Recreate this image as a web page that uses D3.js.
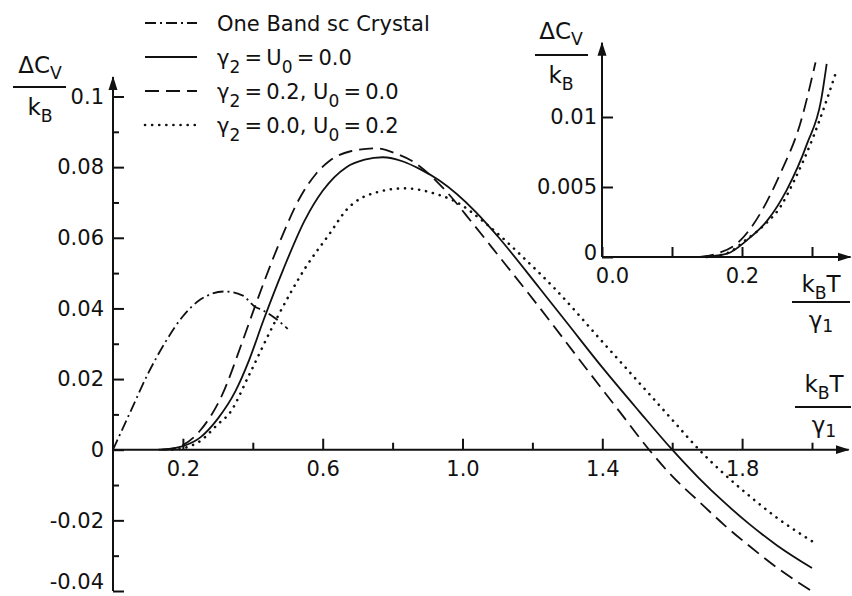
<!DOCTYPE html>
<html>
<head>
<meta charset="utf-8">
<script src="https://cdn.jsdelivr.net/npm/d3@7"></script>
<style>
  body { margin: 0; background: #fff; }
  svg text { font-family: "DejaVu Sans", sans-serif; fill: #111; }
</style>
</head>
<body>
<div id="chart"></div>
<script>
// values: x = kB T / gamma1, y = delta Cv / kB

// one band sc crystal (dash-dot)
const oneBandT  = [0, 0.05, 0.1, 0.15, 0.2, 0.25, 0.32, 0.37, 0.406, 0.43, 0.463, 0.5];
const oneBandCv = [0, 0.0108, 0.0215, 0.0305, 0.0378, 0.0425, 0.0448, 0.0437, 0.0405, 0.0394, 0.0373, 0.0342];

// gamma2 = U0 = 0.0 (solid)
const solidT  = [0.13, 0.16, 0.2, 0.25, 0.3, 0.35, 0.39, 0.43, 0.487, 0.549, 0.6, 0.668, 0.72, 0.772, 0.83, 0.877, 0.934, 1.039, 1.1, 1.22, 1.3, 1.4, 1.506, 1.6, 1.677, 1.75, 1.82, 1.9, 2.0];
const solidCv = [0, 0.0002, 0.001, 0.0035, 0.0088, 0.0165, 0.0255, 0.0365, 0.051, 0.065, 0.0733, 0.08, 0.0821, 0.0828, 0.0816, 0.0795, 0.0762, 0.0672, 0.0605, 0.0458, 0.0358, 0.0233, 0.0108, 0, -0.0081, -0.015, -0.021, -0.0271, -0.0335];

// gamma2 = 0.2, U0 = 0.0 (dashed)
const dashedT  = [0.14, 0.17, 0.2, 0.25, 0.31, 0.372, 0.406, 0.434, 0.477, 0.534, 0.58, 0.62, 0.68, 0.753, 0.81, 0.858, 0.95, 1.029, 1.1, 1.22, 1.35, 1.45, 1.534, 1.6, 1.677, 1.75, 1.82, 1.9, 2.0];
const dashedCv = [0, 0.0003, 0.0013, 0.0055, 0.015, 0.0311, 0.0405, 0.048, 0.0588, 0.0712, 0.078, 0.0818, 0.0845, 0.0853, 0.0838, 0.0816, 0.0735, 0.0641, 0.0553, 0.0403, 0.0235, 0.0107, 0, -0.0075, -0.0147, -0.0214, -0.0272, -0.0334, -0.0401];

// gamma2 = 0.0, U0 = 0.2 (dotted)
const dottedT  = [0.17, 0.2, 0.25, 0.3, 0.334, 0.391, 0.465, 0.553, 0.62, 0.668, 0.763, 0.834, 0.934, 0.971, 1.077, 1.17, 1.267, 1.4, 1.506, 1.6, 1.677, 1.75, 1.82, 1.9, 2.0];
const dottedCv = [0, 0.0004, 0.0025, 0.0072, 0.0104, 0.0215, 0.0365, 0.0519, 0.0612, 0.0679, 0.0731, 0.074, 0.0721, 0.0707, 0.0632, 0.0548, 0.0453, 0.0306, 0.0189, 0.0085, 0, -0.007, -0.013, -0.0193, -0.0259];

// inset (low temperature part)
const insetSolidT   = [0.145, 0.179, 0.207, 0.236, 0.264, 0.293, 0.313, 0.321];
const insetSolidCv  = [0, 0.00024, 0.0012, 0.0026, 0.0048, 0.0081, 0.0112, 0.0138];
const insetDashedT  = [0.14, 0.164, 0.198, 0.226, 0.255, 0.283, 0.305];
const insetDashedCv = [0, 0.00024, 0.0012, 0.0031, 0.006, 0.0095, 0.0139];
const insetDottedT  = [0.15, 0.18, 0.205, 0.23, 0.255, 0.274, 0.302, 0.335];
const insetDottedCv = [0, 0.0003, 0.0012, 0.0022, 0.0036, 0.0054, 0.0086, 0.0133];

// ticks
const yTicks = [-0.04, -0.02, 0, 0.02, 0.04, 0.06, 0.08, 0.1];
const yTickLabels = ["-0.04", "-0.02", "0", "0.02", "0.04", "0.06", "0.08", "0.1"];
const yMinorTicks = [-0.03, -0.01, 0.01, 0.03, 0.05, 0.07, 0.09];
const xTicks = [0.2, 0.6, 1.0, 1.4, 1.8];
const xTickLabels = ["0.2", "0.6", "1.0", "1.4", "1.8"];
const xMinorTicks = [0.4, 0.8, 1.2, 1.6, 2.0];
const insetYTicks = [0, 0.005, 0.01];
const insetYTickLabels = ["0", "0.005", "0.01"];
const insetXTicks = [0, 0.1, 0.2, 0.3];
const insetXTickLabels = ["0.0", "", "0.2", ""];

// legend text, [text, subscript?]
const legendLabels = [
  [["One Band sc Crystal"]],
  [["γ"], ["2", 1], ["\u2009=\u2009U"], ["0", 1], ["\u2009=\u20090.0"]],
  [["γ"], ["2", 1], ["\u2009=\u20090.2,  U"], ["0", 1], ["\u2009=\u20090.0"]],
  [["γ"], ["2", 1], ["\u2009=\u20090.0,  U"], ["0", 1], ["\u2009=\u20090.2"]]
];

const zip = (a, b) => a.map((v, i) => [v, b[i]]);

const styles = {
  oneBand: { dash: "11,4,2,4", cap: "butt", w: 1.8 },
  solid:   { dash: null, cap: "butt", w: 1.8 },
  dashed:  { dash: "14,7", cap: "butt", w: 1.8 },
  dotted:  { dash: "0.1,7", cap: "round", w: 2.6 }
};

const svg = d3.select("#chart").append("svg")
  .attr("width", 852)
  .attr("height", 596);

svg.append("defs").append("marker")
  .attr("id", "arrow")
  .attr("viewBox", "0 -5 14 10")
  .attr("refX", 13)
  .attr("refY", 0)
  .attr("markerWidth", 14)
  .attr("markerHeight", 10)
  .attr("markerUnits", "userSpaceOnUse")
  .attr("orient", "auto")
  .append("path")
  .attr("d", "M0,-4.5L14,0L0,4.5Z")
  .attr("fill", "#111");

// ---------- main plot ----------
const x = d3.scaleLinear().domain([0, 2]).range([113, 812]);
const y = d3.scaleLinear().domain([-0.04, 0.1]).range([591, 96.5]);

function styleAxis(g, size) {
  g.attr("font-family", null).attr("font-size", size);
  g.select(".domain").remove();
  g.selectAll(".tick line").attr("stroke", "#111").attr("stroke-width", 2);
}

// y ticks (to the right of the axis, labels on the left)
svg.append("g")
  .attr("transform", `translate(${x(0)},0)`)
  .call(d3.axisLeft(y).tickValues(yTicks).tickFormat((d, i) => yTickLabels[i])
    .tickSizeInner(-11).tickSizeOuter(0).tickPadding(9))
  .call(g => styleAxis(g, 21))
  // lowest label would run off the bottom edge
  .call(g => g.selectAll("text").attr("dy", (d, i) => i === 0 ? "-0.1em" : "0.32em"));
svg.append("g")
  .attr("transform", `translate(${x(0)},0)`)
  .call(d3.axisLeft(y).tickValues(yMinorTicks).tickFormat("").tickSizeInner(-6).tickSizeOuter(0))
  .call(g => styleAxis(g, 21));

// x ticks (upward, labels below)
svg.append("g")
  .attr("transform", `translate(0,${y(0)})`)
  .call(d3.axisBottom(x).tickValues(xTicks).tickFormat((d, i) => xTickLabels[i])
    .tickSizeInner(-11).tickSizeOuter(0).tickPadding(11))
  .call(g => styleAxis(g, 21));
svg.append("g")
  .attr("transform", `translate(0,${y(0)})`)
  .call(d3.axisBottom(x).tickValues(xMinorTicks).tickFormat("").tickSizeInner(-7).tickSizeOuter(0))
  .call(g => styleAxis(g, 21));

// axis lines with arrows
svg.append("line")
  .attr("x1", x(0)).attr("x2", x(0))
  .attr("y1", y(-0.04)).attr("y2", y(0.1055))
  .attr("stroke", "#111").attr("stroke-width", 2)
  .attr("marker-end", "url(#arrow)");
svg.append("line")
  .attr("x1", x(0)).attr("x2", x(2.105))
  .attr("y1", y(0)).attr("y2", y(0))
  .attr("stroke", "#111").attr("stroke-width", 2)
  .attr("marker-end", "url(#arrow)");

const line = d3.line().x(d => x(d[0])).y(d => y(d[1])).curve(d3.curveMonotoneX);

const mainSeries = [
  { data: zip(oneBandT, oneBandCv), style: styles.oneBand },
  { data: zip(solidT, solidCv), style: styles.solid },
  { data: zip(dashedT, dashedCv), style: styles.dashed },
  { data: zip(dottedT, dottedCv), style: styles.dotted }
];

svg.append("g").selectAll("path")
  .data(mainSeries)
  .join("path")
  .attr("d", d => line(d.data))
  .attr("fill", "none")
  .attr("stroke", "#111")
  .attr("stroke-width", d => d.style.w)
  .attr("stroke-linecap", d => d.style.cap)
  .attr("stroke-dasharray", d => d.style.dash);

// ---------- inset ----------
const xi = d3.scaleLinear().domain([0, 0.3]).range([602, 812]);
const yi = d3.scaleLinear().domain([0, 0.01]).range([257, 117]);

svg.append("g")
  .attr("transform", `translate(${xi(0)},0)`)
  .call(d3.axisLeft(yi).tickValues(insetYTicks).tickFormat((d, i) => insetYTickLabels[i])
    .tickSizeInner(-11).tickSizeOuter(0).tickPadding(5))
  .call(g => styleAxis(g, 21))
  .call(g => g.selectAll("text").attr("dy", (d, i) => i === 0 ? "0.1em" : "0.32em"));
svg.append("g")
  .attr("transform", `translate(0,${yi(0)})`)
  .call(d3.axisBottom(xi).tickValues(insetXTicks).tickFormat((d, i) => insetXTickLabels[i])
    .tickSizeInner(-10).tickSizeOuter(0).tickPadding(11))
  .call(g => styleAxis(g, 21))
  // "0.0" sits a little right of the origin, clear of the "0"
  .call(g => g.selectAll("text").attr("dx", (d, i) => i === 0 ? 10 : 0));

svg.append("line")
  .attr("x1", xi(0)).attr("x2", xi(0))
  .attr("y1", yi(0)).attr("y2", yi(0.0153))
  .attr("stroke", "#111").attr("stroke-width", 2)
  .attr("marker-end", "url(#arrow)");
svg.append("line")
  .attr("x1", xi(0)).attr("x2", xi(0.355))
  .attr("y1", yi(0)).attr("y2", yi(0))
  .attr("stroke", "#111").attr("stroke-width", 2)
  .attr("marker-end", "url(#arrow)");

const insetLine = d3.line().x(d => xi(d[0])).y(d => yi(d[1])).curve(d3.curveMonotoneX);

const insetSeries = [
  { data: zip(insetSolidT, insetSolidCv), style: styles.solid },
  { data: zip(insetDashedT, insetDashedCv), style: styles.dashed },
  { data: zip(insetDottedT, insetDottedCv), style: styles.dotted }
];

svg.append("g").selectAll("path")
  .data(insetSeries)
  .join("path")
  .attr("d", d => insetLine(d.data))
  .attr("fill", "none")
  .attr("stroke", "#111")
  .attr("stroke-width", d => d.style.w)
  .attr("stroke-linecap", d => d.style.cap)
  .attr("stroke-dasharray", d => d.style.dash);

// ---------- fraction labels ----------
// parts: [text, subscript shift]
function addText(g, cx, base, parts, size) {
  const t = g.append("text")
    .attr("x", cx).attr("y", base)
    .attr("text-anchor", "middle")
    .attr("font-size", size);
  let shift = 0;
  parts.forEach(p => {
    const s = p[1] || 0;
    t.append("tspan")
      .attr("dy", s - shift)
      .attr("font-size", s ? size * 0.75 : size)
      .text(p[0]);
    shift = s;
  });
}

function fraction(cx, topBase, barY, x0, x1, botBase, top, bottom) {
  const g = svg.append("g");
  addText(g, cx, topBase, top, 23);
  g.append("line")
    .attr("x1", x0).attr("x2", x1)
    .attr("y1", barY).attr("y2", barY)
    .attr("stroke", "#111").attr("stroke-width", 2);
  addText(g, cx, botBase, bottom, 23);
}

fraction(40, 73, 87, 13, 66, 115, [["ΔC"], ["V", 6]], [["k"], ["B", 7]]);
fraction(824, 392, 407, 795, 851, 433, [["k"], ["B", 7], ["T", 0]], [["γ"], ["1", 4]]);
fraction(821, 292, 302, 792, 850, 328, [["k"], ["B", 7], ["T", 0]], [["γ"], ["1", 4]]);
fraction(561, 39, 55, 535, 588, 83, [["ΔC"], ["V", 6]], [["k"], ["B", 7]]);

// ---------- legend ----------
const legendStyles = [styles.oneBand, styles.solid, styles.dashed, styles.dotted];
const legend = svg.append("g");
legendLabels.forEach((parts, i) => {
  const ly = 23 + i * 34;
  const st = legendStyles[i];
  legend.append("line")
    .attr("x1", 145).attr("x2", 197)
    .attr("y1", ly).attr("y2", ly)
    .attr("stroke", "#111")
    .attr("stroke-width", st.w)
    .attr("stroke-linecap", st.cap)
    .attr("stroke-dasharray", st.dash);
  const t = legend.append("text")
    .attr("x", 217).attr("y", ly + 8)
    .attr("font-size", 21);
  let shift = 0;
  parts.forEach(p => {
    const s = p[1] ? 8 : 0;
    t.append("tspan")
      .attr("dy", s - shift)
      .attr("font-size", p[1] ? 17 : 21)
      .text(p[0]);
    shift = s;
  });
});
</script>
</body>
</html>
